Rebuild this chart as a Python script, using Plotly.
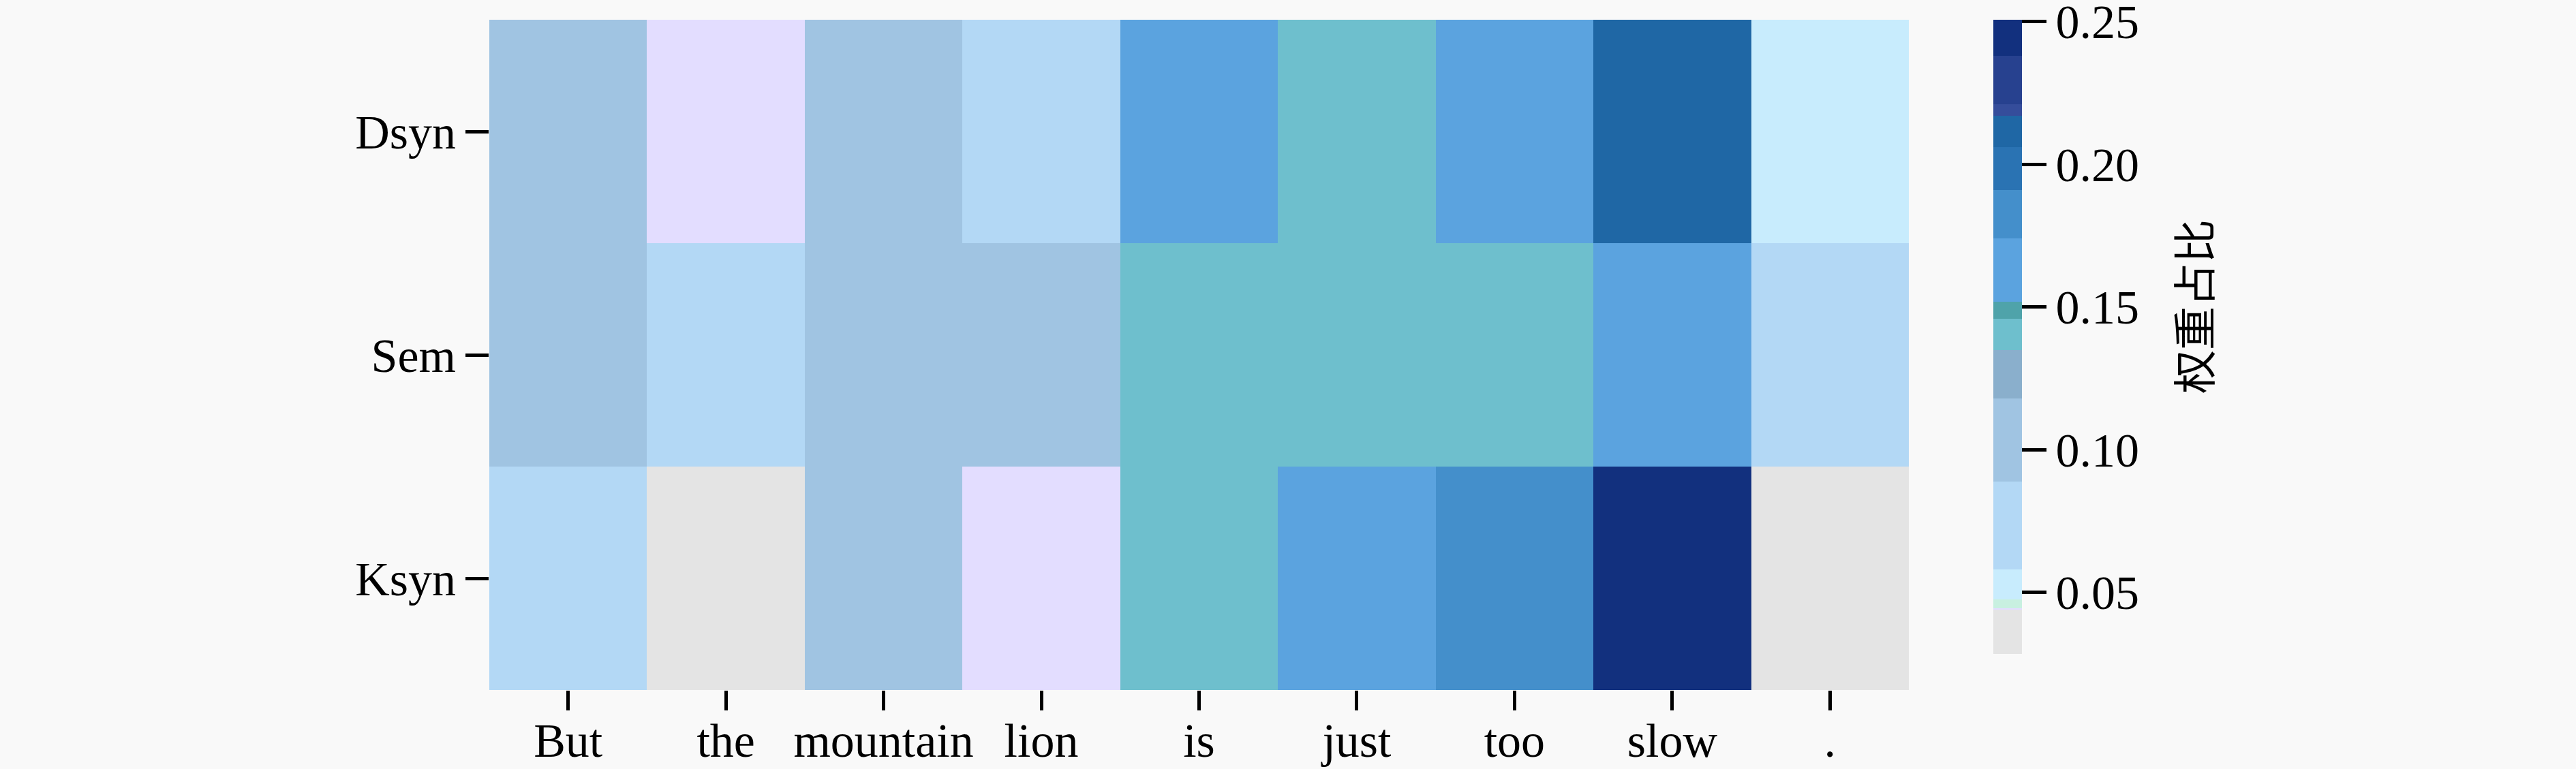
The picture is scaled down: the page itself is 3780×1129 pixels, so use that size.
import plotly.graph_objects as go

#%% data
words = ['But', 'the', 'mountain', 'lion', 'is', 'just', 'too', 'slow', '.']
rows = ['Dsyn', 'Sem', 'Ksyn']

dsyn = [0.100, 0.0445, 0.100, 0.070, 0.160, 0.140, 0.160, 0.210, 0.053]
sem = [0.100, 0.070, 0.100, 0.100, 0.140, 0.140, 0.140, 0.160, 0.070]
ksyn = [0.070, 0.035, 0.100, 0.0445, 0.140, 0.160, 0.180, 0.245, 0.035]

cbar_ticks = [0.05, 0.10, 0.15, 0.20, 0.25]
cbar_title = '权重占比'

#%% discrete colour bands (value edges + colours)
zmin, zmax = 0.0285, 0.2507
band_edges = [0.0285, 0.044, 0.0446, 0.0476, 0.058, 0.089, 0.118, 0.135,
              0.146, 0.152, 0.174, 0.191, 0.206, 0.217, 0.221, 0.238, 0.2507]
band_cols = ['#e4e4e4', '#e3ddff', '#c8f0e0', '#c8ecfd', '#b3d8f5', '#a0c4e2',
             '#8aafcc', '#6ebfcd', '#4fa3aa', '#5ba3df', '#448fcb', '#2a73b3',
             '#1f67a5', '#354d9b', '#27418f', '#12307e']

cscale = []
for i, c in enumerate(band_cols):
    lo = (band_edges[i] - zmin) / (zmax - zmin)
    hi = (band_edges[i + 1] - zmin) / (zmax - zmin)
    cscale.append([max(lo, 0), c])
    cscale.append([min(hi, 1), c])

font = dict(family='Liberation Serif, DejaVu Serif, serif', size=70, color='black')

# full window, body margin removed in the page (see post_script)
W, H = 3780, 1129
ml, mt = 718, 29
mr = W - 2801
mb = H - 1013

fig = go.Figure(go.Heatmap(
    z=[dsyn, sem, ksyn],
    x=words,
    y=rows,
    zmin=zmin,
    zmax=zmax,
    colorscale=cscale,
    xgap=0,
    ygap=0,
    colorbar=dict(
        x=1.0595, xanchor='left', xpad=0,
        y=1.0, yanchor='top', ypad=0,
        len=0.946, lenmode='fraction',
        thickness=42, thicknessmode='pixels',
        outlinewidth=0,
        ticks='outside', ticklen=36, tickwidth=5, tickcolor='black',
        tickvals=cbar_ticks,
        ticktext=['%.2f' % v for v in cbar_ticks],
        tickfont=font,
        ticklabeloverflow='allow',
    ),
))

pw = W - ml - mr
ph = H - mt - mb

fig.update_layout(
    width=W,
    height=H,
    margin=dict(l=ml, r=mr, t=mt, b=mb, autoexpand=False),
    paper_bgcolor='#f9f9f9',
    plot_bgcolor='#f9f9f9',
    font=font,
    xaxis=dict(showgrid=False, zeroline=False, showline=False, automargin=False,
               ticks='outside', ticklen=29, tickwidth=5, tickcolor='black',
               ticklabelstandoff=-16, tickfont=font),
    yaxis=dict(showgrid=False, zeroline=False, showline=False, automargin=False,
               autorange='reversed',
               ticks='outside', ticklen=34, tickwidth=5, tickcolor='black',
               tickfont=font),
    annotations=[dict(
        text=cbar_title, textangle=-90,
        x=(3216 - ml) / pw, y=1 - (450 - mt) / ph,
        xref='paper', yref='paper', showarrow=False,
        font=dict(family='Noto Sans CJK SC', size=64, color='black'),
        xanchor='center', yanchor='middle',
    )],
)

fig.write_html("out.html", config={'displayModeBar': False},
               post_script="document.body.style.margin='0';")
